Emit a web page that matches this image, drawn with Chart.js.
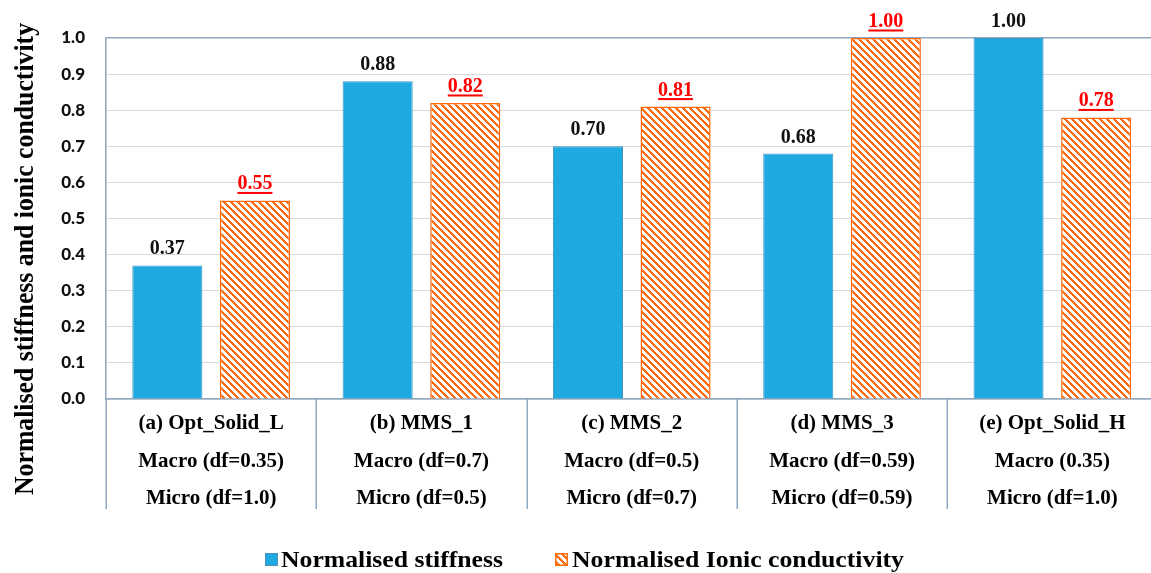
<!DOCTYPE html>
<html>
<head>
<meta charset="utf-8">
<script src="https://cdn.jsdelivr.net/npm/chart.js@4/dist/chart.umd.min.js"></script>
<style>
html,body{margin:0;padding:0;background:#fff;overflow:hidden;}
#wrap{width:1151px;height:573px;overflow:hidden;position:relative;}
canvas{display:block;}
</style>
</head>
<body>
<div id="wrap"><canvas id="c" width="1166" height="573"></canvas></div>
<script>
const categories = [
  ['(a) Opt_Solid_L', 'Macro (df=0.35)', 'Micro (df=1.0)'],
  ['(b) MMS_1', 'Macro (df=0.7)', 'Micro (df=0.5)'],
  ['(c) MMS_2', 'Macro (df=0.5)', 'Micro (df=0.7)'],
  ['(d) MMS_3', 'Macro (df=0.59)', 'Micro (df=0.59)'],
  ['(e) Opt_Solid_H', 'Macro (0.35)', 'Micro (df=1.0)']
];
const stiffness = [0.37, 0.88, 0.70, 0.68, 1.00];
const ionic = [0.55, 0.82, 0.81, 1.00, 0.78];
const seriesNames = ['Normalised stiffness', 'Normalised Ionic conductivity'];
const yTitle = 'Normalised stiffness and ionic conductivity';
const yMin = 0, yMax = 1.0, yStep = 0.1;

const BLUE = '#1FA9E1';
const ORANGE = '#FF6A0D';
const AXIS = '#8FA9C2';
const GRID = '#D9D9D9';
const SERIF = '"Liberation Serif", "Times New Roman", serif';

function hatch() {
  const p = document.createElement('canvas');
  p.width = 7; p.height = 7;
  const g = p.getContext('2d');
  g.fillStyle = '#fff'; g.fillRect(0, 0, 7, 7);
  g.fillStyle = ORANGE;
  for (let y = 0; y < 7; y++) for (let x = 0; x < 7; x++) {
    if (((x - y) % 7 + 7) % 7 < 3) g.fillRect(x, y, 1, 1);
  }
  return document.getElementById('c').getContext('2d').createPattern(p, 'repeat');
}
const HATCH = hatch();

const extras = {
  id: 'extras',
  afterDatasetsDraw(chart) {
    const ctx = chart.ctx;
    ctx.save();
    chart.data.datasets.forEach((ds, di) => {
      const meta = chart.getDatasetMeta(di);
      meta.data.forEach((bar, i) => {
        const txt = ds.data[i].toFixed(2);
        ctx.font = 'bold 20px ' + SERIF;
        ctx.textAlign = 'center';
        ctx.textBaseline = 'alphabetic';
        const by = bar.y - 11;
        if (di === 0) {
          ctx.fillStyle = '#111';
          ctx.fillText(txt, bar.x, by);
        } else {
          ctx.fillStyle = '#FF0000';
          ctx.fillText(txt, bar.x, by);
          const w = ctx.measureText(txt).width;
          ctx.fillRect(bar.x - w / 2, by + 2.5, w, 2);
        }
      });
    });
    ctx.restore();
  },
  afterDraw(chart) {
    const ctx = chart.ctx;
    const ca = chart.chartArea;
    const n = categories.length;
    const cw = (ca.right - ca.left) / n;
    ctx.save();
    // category separators
    ctx.strokeStyle = AXIS;
    ctx.lineWidth = 1.5;
    for (let i = 0; i <= n; i++) {
      const x = Math.round(ca.left + i * cw) + 0.25;
      ctx.beginPath();
      ctx.moveTo(x, ca.bottom);
      ctx.lineTo(x, ca.bottom + 110);
      ctx.stroke();
    }
    // y title
    ctx.translate(33, 259);
    ctx.rotate(-Math.PI / 2);
    ctx.font = 'bold 28px ' + SERIF;
    ctx.textAlign = 'center';
    ctx.textBaseline = 'alphabetic';
    ctx.fillStyle = '#000';
    let w = ctx.measureText(yTitle).width;
    ctx.scale(472 / w, 1);
    ctx.fillText(yTitle, 0, 0);
    ctx.restore();

    // legend
    ctx.save();
    ctx.fillStyle = BLUE;
    ctx.fillRect(265, 553, 13, 13);
    ctx.strokeStyle = '#4a90c0';
    ctx.lineWidth = 1;
    ctx.strokeRect(265.5, 553.5, 12, 12);
    ctx.fillStyle = HATCH;
    ctx.fillRect(555, 553, 13, 13);
    ctx.strokeStyle = ORANGE;
    ctx.lineWidth = 1.5;
    ctx.strokeRect(555.75, 553.75, 11.5, 11.5);
    const drawFit = (t, x, y, width) => {
      ctx.save();
      ctx.font = 'bold 24px ' + SERIF;
      ctx.textAlign = 'left';
      ctx.textBaseline = 'alphabetic';
      ctx.fillStyle = '#000';
      const m = ctx.measureText(t).width;
      ctx.translate(x, y);
      ctx.scale(width / m, 1);
      ctx.fillText(t, 0, 0);
      ctx.restore();
    };
    drawFit(seriesNames[0], 281, 567, 222);
    drawFit(seriesNames[1], 572, 567, 332);
    ctx.restore();
  }
};

new Chart(document.getElementById('c'), {
  type: 'bar',
  data: {
    labels: categories,
    datasets: [
      { label: seriesNames[0], data: stiffness, backgroundColor: BLUE, borderColor: '#3d93c6', borderWidth: 1,
        categoryPercentage: 0.833, barPercentage: 0.8 },
      { label: seriesNames[1], data: ionic, backgroundColor: HATCH, borderColor: ORANGE, borderWidth: 1.5,
        categoryPercentage: 0.833, barPercentage: 0.8 }
    ]
  },
  options: {
    responsive: false,
    animation: false,
    layout: { padding: { left: 0, top: 38, right: 8.5, bottom: 54 } },
    plugins: { legend: { display: false }, tooltip: { enabled: false } },
    scales: {
      x: {
        offset: true,
        grid: { display: true, drawOnChartArea: false, drawTicks: false },
        border: { display: true, color: AXIS, width: 1.5 },
        ticks: {
          color: '#000',
          font: { family: SERIF, size: 21, weight: 'bold', lineHeight: 1.79 },
          padding: 6,
          maxRotation: 0, minRotation: 0, autoSkip: false
        },
        afterFit(s) { s.height = 120; }
      },
      y: {
        min: yMin, max: yMax,
        grid: {
          color: (c) => (c.tick && Math.abs(c.tick.value - yMax) < 1e-9) ? AXIS : GRID,
          lineWidth: (c) => (c.tick && Math.abs(c.tick.value - yMax) < 1e-9) ? 1.5 : 1,
          drawTicks: false
        },
        border: { display: true, color: AXIS, width: 1.5 },
        ticks: {
          stepSize: yStep,
          padding: 21,
          color: '#111',
          font: { family: 'Lato, "Open Sans", sans-serif', size: 17, weight: '900' },
          callback: (v) => Number(v).toFixed(1)
        },
        afterFit(s) { s.width = 106; }
      }
    }
  },
  plugins: [extras]
});
</script>
</body>
</html>
